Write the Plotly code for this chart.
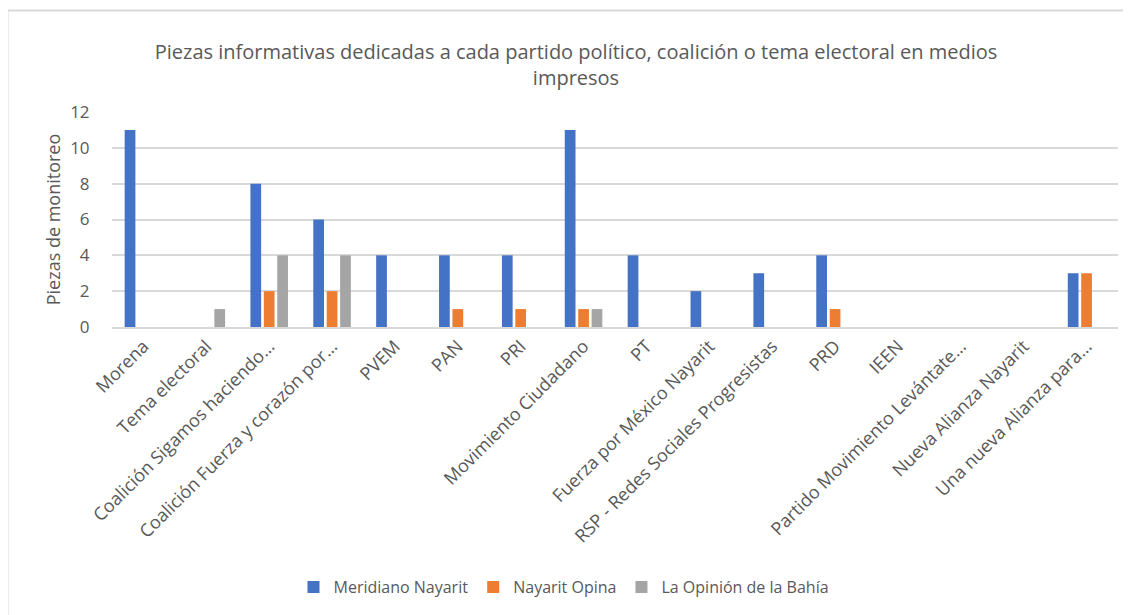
import plotly.graph_objects as go

categories = [
    "Morena", "Tema electoral", "Coalición Sigamos haciendo…",
    "Coalición Fuerza y corazón por…", "PVEM", "PAN", "PRI",
    "Movimiento Ciudadano", "PT", "Fuerza por México Nayarit",
    "RSP - Redes Sociales Progresistas", "PRD", "IEEN",
    "Partido Movimiento Levántate…", "Nueva Alianza Nayarit",
    "Una nueva Alianza para…",
]
meridiano = [11, 0, 8, 6, 4, 4, 4, 11, 4, 2, 3, 4, 0, 0, 0, 3]
nayarit_opina = [0, 0, 2, 2, 0, 1, 1, 1, 0, 0, 0, 1, 0, 0, 0, 3]
la_opinion = [0, 1, 4, 4, 0, 0, 0, 1, 0, 0, 0, 0, 0, 0, 0, 0]

series = [
    ("Meridiano Nayarit", meridiano, "#4472C4"),
    ("Nayarit Opina", nayarit_opina, "#ED7D31"),
    ("La Opinión de la Bahía", la_opinion, "#A5A5A5"),
]

OFF = 8  # page body margin
W, H = 1131 - OFF, 615 - OFF
# plot area in page pixels -> figure pixels
L, R, T, B = 112 - OFF, 1118 - OFF, 112 - OFF, 327 - OFF
FONT = "Open Sans"
TXT = "#595959"
GRID = "#D9D9D9"

fig = go.Figure()
for name, vals, col in series:
    fig.add_trace(go.Bar(
        x=categories, y=vals, name=name,
        marker=dict(color=col, line=dict(width=0)),
    ))

pw, ph = R - L, B - T
def px_x(p):  # page px -> paper
    return (p - OFF - L) / pw
def px_y(p):
    return (B - (p - OFF)) / ph

fig.update_layout(
    width=W, height=H,
    margin=dict(l=L, r=W - R, t=T, b=H - B, pad=0),
    paper_bgcolor="white", plot_bgcolor="white",
    barmode="group", bargap=0.36, bargroupgap=0.2,
    font=dict(family=FONT, color=TXT),
    title=dict(
        text="Piezas informativas dedicadas a cada partido político, coalición o tema electoral en medios<br>impresos",
        x=(576 - OFF) / W, xanchor="center", xref="container",
        y=1 - (58.5 - OFF) / H, yanchor="middle", yref="container",
        font=dict(family=FONT, size=20, color=TXT),
    ),
    showlegend=True,
    legend=dict(
        orientation="h", x=px_x(564), xanchor="center",
        y=px_y(587), yanchor="middle",
        font=dict(family=FONT, size=16, color=TXT),
        itemwidth=30, traceorder="normal",
    ),
    xaxis=dict(
        tickangle=-45, tickfont=dict(family=FONT, size=18, color=TXT),
        showline=True, linecolor=GRID, linewidth=1.5,
        showgrid=False, ticks="",
    ),
    yaxis=dict(
        range=[0, 12], dtick=2, tick0=0,
        showgrid=True, gridcolor=GRID, gridwidth=1.5,
        zeroline=False, showline=False,
        tickfont=dict(family=FONT, size=17, color=TXT),
        ticks="outside", ticklen=18, tickcolor="rgba(0,0,0,0)",
        title=dict(text="Piezas de monitoreo",
                   font=dict(family=FONT, size=18, color=TXT),
                   standoff=4),
    ),
    shapes=[dict(
        type="rect", xref="paper", yref="paper",
        x0=px_x(7.5), x1=px_x(1131 + 20), y0=px_y(615 + 20), y1=px_y(10.5),
        line=dict(color=GRID, width=2), fillcolor="rgba(0,0,0,0)",
        layer="below",
    )],
)

fig.write_html("out.html")
